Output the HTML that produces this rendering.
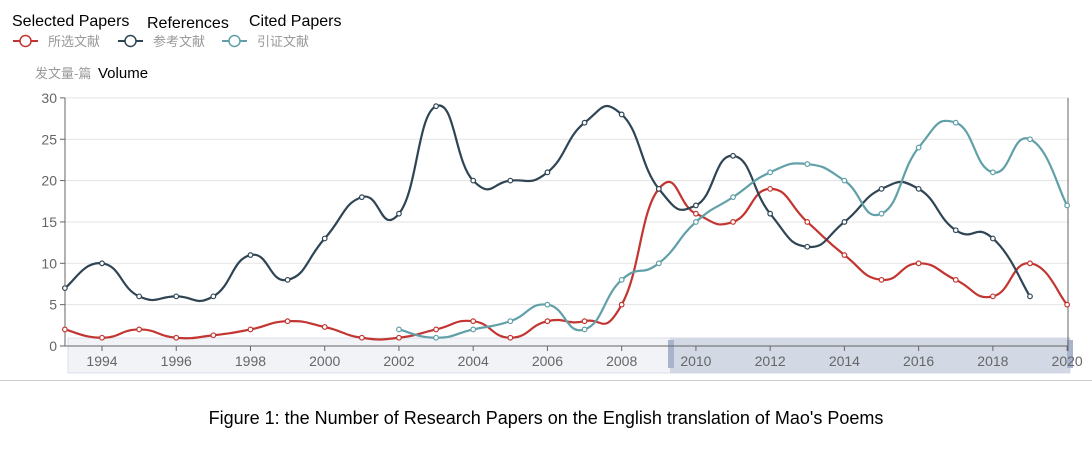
<!DOCTYPE html>
<html><head><meta charset="utf-8"><style>
body{margin:0;background:#fff;width:1092px;height:448px;overflow:hidden;font-family:"Liberation Sans","Noto Sans CJK SC",sans-serif}
</style></head><body>
<svg id="s" width="1092" height="448" xmlns="http://www.w3.org/2000/svg" font-family="Liberation Sans, Noto Sans CJK SC, sans-serif">
<text x="12" y="26" font-size="16" fill="#000">Selected Papers</text>
<text x="147" y="28" font-size="16" fill="#000">References</text>
<text x="249" y="26" font-size="16" fill="#000">Cited Papers</text>
<g font-size="13" fill="#999">
<line x1="13" y1="41" x2="38" y2="41" stroke="#c23531" stroke-width="2"/><circle cx="25.5" cy="41" r="5.5" fill="#fff" stroke="#c23531" stroke-width="1.5"/><text x="48" y="46">所选文献</text>
<line x1="118" y1="41" x2="143" y2="41" stroke="#2f4554" stroke-width="2"/><circle cx="130.5" cy="41" r="5.5" fill="#fff" stroke="#2f4554" stroke-width="1.5"/><text x="153" y="46">参考文献</text>
<line x1="222" y1="41" x2="247" y2="41" stroke="#61a0a8" stroke-width="2"/><circle cx="234.5" cy="41" r="5.5" fill="#fff" stroke="#61a0a8" stroke-width="1.5"/><text x="257" y="46">引证文献</text>
<text x="35" y="78">发文量-篇</text></g>
<text x="98" y="78" font-size="15" fill="#000">Volume</text>
<rect x="68" y="338" width="1002" height="35" fill="#f2f3f6" stroke="#dde"/>
<rect x="670" y="338" width="400" height="35" fill="#c7d0df" fill-opacity="0.75"/>
<rect x="668" y="340" width="6" height="28" fill="#a8b4cc"/><rect x="1067" y="340" width="6" height="28" fill="#a8b4cc"/>
<g id="grid"></g>
<line x1="0" y1="380.5" x2="1092" y2="380.5" stroke="#ccc"/>
<text x="546" y="424" font-size="18" text-anchor="middle" fill="#000">Figure 1: the Number of Research Papers on the English translation of Mao's Poems</text>
<g id="series"></g>
</svg>
<script>
var ns="http://www.w3.org/2000/svg";
function X(y){return 102+(y-1994)*37.12}
function Y(v){return 346-v*8.27}
function el(p,t,a,tx){var e=document.createElementNS(ns,t);for(var k in a)e.setAttribute(k,a[k]);if(tx!=null)e.textContent=tx;p.appendChild(e);return e}
var g=document.getElementById('grid');
for(var i=0;i<=6;i++){var y=Y(i*5);el(g,'line',{x1:65,x2:1068,y1:y,y2:y,stroke:i?'#e3e3e3':'#666'});
el(g,'text',{x:57,y:y+5,'font-size':14,'text-anchor':'end',fill:'#666'},i*5);el(g,'line',{x1:60,x2:65,y1:y,y2:y,stroke:'#666'});}
el(g,'line',{x1:65,x2:65,y1:Y(30),y2:Y(0),stroke:'#666'});
el(g,'line',{x1:1068,x2:1068,y1:Y(30),y2:Y(0)+5,stroke:'#666'});
for(var yr=1994;yr<=2020;yr+=2){el(g,'text',{x:X(yr),y:366,'font-size':14,'text-anchor':'middle',fill:'#666'},yr);el(g,'line',{x1:X(yr),x2:X(yr),y1:346,y2:351,stroke:'#666'});}
var S=[
["#c23531",1993,[2,1,2,1,1.3,2,3,2.3,1,1,2,3,1,3,3,5,19,16,15,19,15,11,8,10,8,6,10,5]],
["#2f4554",1993,[7,10,6,6,6,11,8,13,18,16,29,20,20,21,27,28,19,17,23,16,12,15,19,19,14,13,6]],
["#61a0a8",2002,[2,1,2,3,5,2,8,10,15,18,21,22,20,16,24,27,21,25,17]]];
var sg=document.getElementById('series');
S.forEach(function(s){var p=s[2].map(function(v,i){return[X(s[1]+i),Y(v)]});
var d="M"+p[0][0]+","+p[0][1];
for(var i=0;i<p.length-1;i++){var p0=p[i-1]||p[i],p1=p[i],p2=p[i+1],p3=p[i+2]||p2,t=0.25;
var c1=[p1[0]+(p2[0]-p0[0])*t,p1[1]+(p2[1]-p0[1])*t],c2=[p2[0]-(p3[0]-p1[0])*t,p2[1]-(p3[1]-p1[1])*t];
d+=" C"+c1+" "+c2+" "+p2;}
el(sg,'path',{d:d,fill:'none',stroke:s[0],'stroke-width':2.2});
p.forEach(function(q){el(sg,'circle',{cx:q[0],cy:q[1],r:2.3,fill:'#fff',stroke:s[0],'stroke-width':1.2})});});
</script>
</body></html>
